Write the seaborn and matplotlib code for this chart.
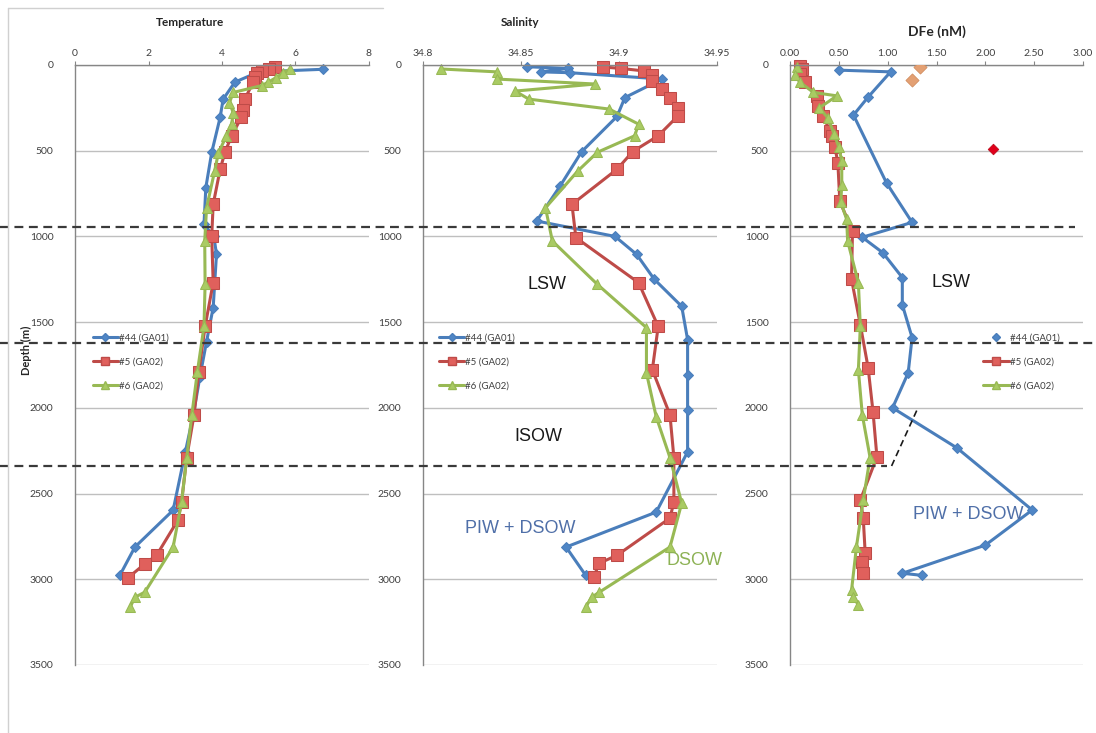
# depth profiles of temperature, salinity and dissolved iron at three stations
import matplotlib
matplotlib.use('Agg')
import matplotlib.pyplot as plt
import matplotlib.transforms as mtransforms
from matplotlib.lines import Line2D
import seaborn as sns

# temperature profiles (deg C vs depth in m)
t44_depth = [25, 40, 100, 200, 305, 510, 715, 930, 1000, 1105, 1415, 1613, 1818, 2040, 2260, 2597, 2812, 2977]
t44 = [6.75, 5.0, 4.35, 4.03, 3.95, 3.72, 3.56, 3.51, 3.78, 3.85, 3.76, 3.58, 3.40, 3.22, 3.00, 2.67, 1.63, 1.22]
t5_depth = [12, 23, 35, 47, 70, 100, 199, 260, 305, 413, 510, 608, 813, 1000, 1270, 1525, 1790, 2040, 2290, 2550, 2655, 2860, 2910, 2990]
t5 = [5.45, 5.28, 5.10, 4.95, 4.90, 4.85, 4.62, 4.58, 4.53, 4.26, 4.08, 3.95, 3.76, 3.72, 3.76, 3.54, 3.37, 3.24, 3.04, 2.90, 2.80, 2.22, 1.90, 1.45]
t6_depth = [25, 45, 75, 100, 120, 160, 220, 280, 345, 413, 515, 618, 833, 1027, 1280, 1525, 1790, 2040, 2290, 2550, 2812, 3075, 3105, 3163]
t6 = [5.85, 5.67, 5.46, 5.26, 5.08, 4.31, 4.20, 4.31, 4.26, 4.12, 3.90, 3.80, 3.58, 3.53, 3.54, 3.51, 3.33, 3.18, 3.04, 2.90, 2.67, 1.90, 1.63, 1.50]

# salinity profiles
s44_depth = [10, 20, 40, 45, 82, 190, 300, 505, 705, 910, 1000, 1105, 1250, 1408, 1602, 1807, 2012, 2257, 2608, 2812, 2977]
s44 = [34.853, 34.874, 34.860, 34.875, 34.922, 34.903, 34.899, 34.881, 34.870, 34.858, 34.898, 34.909, 34.918, 34.932, 34.935, 34.935, 34.935, 34.935, 34.919, 34.873, 34.883]
s5_depth = [12, 20, 35, 60, 93, 140, 193, 248, 298, 413, 505, 608, 813, 1007, 1270, 1525, 1778, 2040, 2290, 2550, 2643, 2860, 2906, 2988]
s5 = [34.892, 34.901, 34.913, 34.917, 34.917, 34.922, 34.926, 34.930, 34.930, 34.920, 34.907, 34.899, 34.876, 34.878, 34.910, 34.920, 34.917, 34.926, 34.928, 34.928, 34.926, 34.899, 34.890, 34.887]
s6_depth = [23, 40, 82, 111, 152, 199, 257, 345, 413, 509, 618, 833, 1027, 1280, 1532, 1796, 2053, 2290, 2556, 2812, 3075, 3105, 3163]
s6 = [34.809, 34.8375, 34.8375, 34.888, 34.847, 34.854, 34.895, 34.910, 34.908, 34.889, 34.879, 34.8625, 34.866, 34.889, 34.914, 34.914, 34.919, 34.926, 34.932, 34.926, 34.890, 34.886, 34.883]

# dissolved iron profiles (nM)
d44_depth = [30, 40, 187, 292, 690, 918, 1005, 1095, 1240, 1398, 1590, 1796, 2000, 2234, 2596, 2801, 2965, 2977]
d44 = [0.50, 1.03, 0.80, 0.65, 0.99, 1.25, 0.74, 0.95, 1.15, 1.15, 1.25, 1.21, 1.05, 1.71, 2.48, 2.00, 1.15, 1.35]
d5_depth = [5, 25, 50, 100, 180, 240, 300, 385, 413, 480, 570, 795, 970, 1250, 1515, 1766, 2023, 2286, 2538, 2643, 2848, 2900, 2965]
d5 = [0.10, 0.12, 0.10, 0.15, 0.28, 0.29, 0.34, 0.41, 0.43, 0.46, 0.49, 0.51, 0.64, 0.63, 0.72, 0.80, 0.85, 0.89, 0.72, 0.75, 0.77, 0.74, 0.75]
d6_depth = [10, 60, 100, 160, 180, 250, 310, 400, 480, 560, 700, 800, 900, 1027, 1270, 1525, 1778, 2040, 2290, 2538, 2812, 3065, 3105, 3150]
d6 = [0.07, 0.05, 0.10, 0.24, 0.48, 0.30, 0.39, 0.45, 0.50, 0.53, 0.53, 0.52, 0.58, 0.59, 0.70, 0.72, 0.70, 0.74, 0.82, 0.75, 0.68, 0.63, 0.65, 0.70]
orange_depth = [12, 90]
orange_fe = [1.33, 1.25]
red_depth = [490]
red_fe = [2.08]

stations = ['#44 (GA01)', '#5 (GA02)', '#6 (GA02)']
water_bounds = [947, 1620, 2339]  # dashed boundaries between water masses

sns.set_style('white')
plt.rcParams['font.family'] = ['Lato', 'DejaVu Sans']

blue, red, green = '#4A7EBB', '#BE4B48', '#98B954'
styles = [
    dict(color=blue, marker='D', markersize=5, markerfacecolor='#4F86C6', markeredgecolor=blue),
    dict(color=red, marker='s', markersize=8, markerfacecolor='#E0605C', markeredgecolor=red),
    dict(color=green, marker='^', markersize=7.5, markerfacecolor='#A9CB63', markeredgecolor=green),
]

fig = plt.figure(figsize=(10.96, 7.33), dpi=100)
W, H = 1096, 733
bottom, height = 68 / H, 600 / H
ax1 = fig.add_axes([75 / W, bottom, 294 / W, height])
ax2 = fig.add_axes([423 / W, bottom, 294 / W, height])
ax3 = fig.add_axes([790 / W, bottom, 293 / W, height])

panels = [
    (ax1, [(t44, t44_depth), (t5, t5_depth), (t6, t6_depth)], (0, 8), [0, 2, 4, 6, 8], ['0', '2', '4', '6', '8']),
    (ax2, [(s44, s44_depth), (s5, s5_depth), (s6, s6_depth)], (34.8, 34.95), [34.8, 34.85, 34.9, 34.95],
     ['34.8', '34.85', '34.9', '34.95']),
    (ax3, [(d44, d44_depth), (d5, d5_depth), (d6, d6_depth)], (0, 3), [0, 0.5, 1, 1.5, 2, 2.5, 3],
     ['0.00', '0.50', '1.00', '1.50', '2.00', '2.50', '3.00']),
]

for ax, series, xlim, xticks, xlabels in panels:
    for (vals, depth), st, name in zip(series, styles, stations):
        sns.lineplot(x=vals, y=depth, sort=False, estimator=None, ax=ax, linewidth=2.2,
                     label=name, clip_on=False, **st)
    ax.set_xlim(*xlim)
    ax.set_ylim(3500, 0)
    ax.set_xticks(xticks)
    ax.set_xticklabels(xlabels)
    ax.set_yticks(range(0, 3501, 500))
    ax.xaxis.tick_top()
    ax.tick_params(axis='x', top=True, length=3, color='#868686', labelsize=7.5, labelcolor='#404040', pad=2)
    ax.tick_params(axis='y', left=False, labelsize=7.5, labelcolor='#404040', pad=12)
    ax.grid(axis='y', color='#BFBFBF', linewidth=1)
    ax.grid(axis='x', visible=False)
    for side in ['right', 'bottom']:
        ax.spines[side].set_visible(False)
    for side in ['left', 'top']:
        ax.spines[side].set_color('#868686')
        ax.spines[side].set_linewidth(1)
    ax.set_xlabel('')
    ax.set_ylabel('')

# extra surface / mid-depth DFe points
sns.scatterplot(x=orange_fe, y=orange_depth, ax=ax3, marker='D', s=45, color='#E3A073', edgecolor='#D08A5C', zorder=5)
sns.scatterplot(x=red_fe, y=red_depth, ax=ax3, marker='D', s=30, color='#E0001B', edgecolor='#B00010', zorder=5)

# legends
def make_handles(first_marker_only=False):
    hs = []
    for i, (st, name) in enumerate(zip(styles, stations)):
        ls = 'none' if (first_marker_only and i == 0) else '-'
        hs.append(Line2D([], [], linestyle=ls, linewidth=2.2, label=name, **st))
    return hs

for ax, anchor, only in [(ax1, (0.03, 0.505), False), (ax2, (0.025, 0.505), False), (ax3, (0.63, 0.505), True)]:
    ax.legend(handles=make_handles(only), loc='center left', bbox_to_anchor=anchor, frameon=False,
              fontsize=7, labelspacing=1.55, handlelength=2.6, handletextpad=0.1, markerscale=0.8,
              labelcolor='#404040')

# titles and axis label
fig.text(190 / W, 1 - 23 / H, 'Temperature', ha='center', va='center', fontsize=8.5, fontweight='bold')
fig.text(520 / W, 1 - 22 / H, 'Salinity', ha='center', va='center', fontsize=8.5, fontweight='bold')
fig.text(937 / W, 1 - 32 / H, 'DFe (nM)', ha='center', va='center', fontsize=10, fontweight='bold')
fig.text(26 / W, 1 - 350 / H, 'Depth (m)', ha='center', va='center', rotation=90, fontsize=8, fontweight='bold')

# water mass labels
lab = dict(family=['Liberation Sans', 'DejaVu Sans'], fontsize=13, ha='center', va='center')
ax2.text(34.8635, 1280, 'LSW', color='#1a1a1a', **lab)
ax2.text(34.859, 2165, 'ISOW', color='#1a1a1a', **lab)
ax2.text(34.8495, 2705, 'PIW + DSOW', color='#4F6FA8', **lab)
ax2.text(34.9385, 2890, 'DSOW', color='#8DB255', **lab)
ax3.text(1.65, 1270, 'LSW', color='#1a1a1a', **lab)
ax3.text(1.82, 2620, 'PIW + DSOW', color='#4F6FA8', **lab)

# dashed water mass boundaries across all panels
trans = mtransforms.blended_transform_factory(fig.transFigure, ax1.transData)
ends = [1075 / W, 1.0, 887 / W]
for d, xe in zip(water_bounds, ends):
    fig.add_artist(Line2D([0, xe], [d, d], transform=trans, color='#3a3a3a', linewidth=1.6,
                          linestyle=(0, (4, 2.5))))
ax3.plot([1.04, 1.31], [water_bounds[2], 2000], color='#1a1a1a', linewidth=1.2, linestyle=(0, (4, 2.5)))

# light frame around the left panel
fig.add_artist(Line2D([8 / W, 383 / W], [1 - 8 / H, 1 - 8 / H], transform=fig.transFigure, color='#D0D0D0', linewidth=1))
fig.add_artist(Line2D([8 / W, 8 / W], [1 - 8 / H, 0], transform=fig.transFigure, color='#D0D0D0', linewidth=1))

fig.savefig('out.png', dpi=100)
